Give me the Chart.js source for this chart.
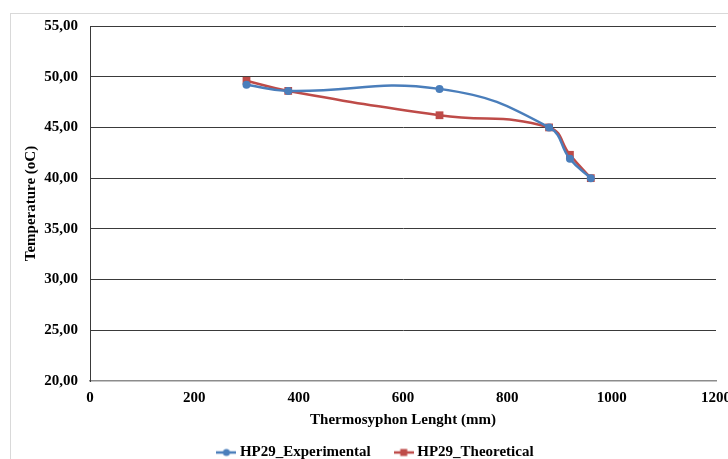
<!DOCTYPE html>
<html>
<head>
<meta charset="utf-8">
<script src="https://cdn.jsdelivr.net/npm/chart.js@4/dist/chart.umd.min.js"></script>
<style>
html,body{margin:0;padding:0;background:#fff;}
#wrap{width:728px;height:459px;position:relative;}
</style>
</head>
<body>
<div id="wrap"><canvas id="c" width="728" height="459"></canvas></div>
<script>
const seriesNames = ["HP29_Experimental", "HP29_Theoretical"];
const lengthMm = [300, 380, 670, 880, 920, 960];
const experimental = [49.2, 48.6, 48.8, 45.0, 41.9, 40.0];
const theoretical = [49.6, 48.6, 46.2, 45.0, 42.3, 40.0];
const xTitle = "Thermosyphon Lenght (mm)";
const yTitle = "Temperature (oC)";

const BLUE = "#4A7EBB";
const RED = "#BE4B48";
const FONT = "'Liberation Serif', 'Times New Roman', serif";

function legendIcon(color, shape) {
  const cv = document.createElement('canvas');
  cv.width = 20; cv.height = 12;
  const g = cv.getContext('2d');
  g.strokeStyle = color; g.lineWidth = 2.5;
  g.beginPath(); g.moveTo(0, 6); g.lineTo(20, 6); g.stroke();
  g.fillStyle = color;
  if (shape === 'circle') { g.beginPath(); g.arc(10, 6, 3.5, 0, Math.PI * 2); g.fill(); }
  else { g.fillRect(6.5, 2.5, 7, 7); }
  return cv;
}

const toPts = (xs, ys) => xs.map((x, i) => ({x: x, y: ys[i]}));

const borderPlugin = {
  id: 'outerBorder',
  beforeDraw(chart) {
    const ctx = chart.ctx;
    ctx.save();
    ctx.strokeStyle = '#d9d9d9';
    ctx.lineWidth = 1;
    ctx.strokeRect(10.5, 13.5, 740, 460);
    ctx.restore();
    if (chart.legend) {
      chart.legend.left += 19;
      chart.legend.right += 19;
    }
  }
};

new Chart(document.getElementById('c'), {
  type: 'line',
  data: {
    datasets: [
      {
        label: seriesNames[0],
        data: toPts(lengthMm, experimental),
        borderColor: BLUE, backgroundColor: BLUE,
        borderWidth: 2.5, pointStyle: 'circle', pointRadius: 4,
        pointBackgroundColor: BLUE, pointBorderWidth: 0,
        tension: 0.45
      },
      {
        label: seriesNames[1],
        data: toPts(lengthMm, theoretical),
        borderColor: RED, backgroundColor: RED,
        borderWidth: 2.5, pointStyle: 'rect', pointRadius: 5.5,
        pointBackgroundColor: RED, pointBorderWidth: 0,
        tension: 0.45
      }
    ]
  },
  options: {
    responsive: false,
    animation: false,
    layout: {padding: {top: 26, right: 12, left: 0, bottom: -11}},
    plugins: {
      tooltip: {enabled: false},
      legend: {
        position: 'bottom',
        labels: {
          usePointStyle: true,
          pointStyleWidth: 12,
          padding: 27,
          color: '#000',
          font: {family: FONT, size: 15, weight: 'bold'},
          generateLabels(chart) {
            return chart.data.datasets.map((ds, i) => ({
              text: ds.label,
              fillStyle: ds.borderColor,
              strokeStyle: ds.borderColor,
              lineWidth: 0,
              pointStyle: legendIcon(ds.borderColor, i === 0 ? 'circle' : 'rect'),
              datasetIndex: i,
              hidden: false
            }));
          }
        }
      }
    },
    scales: {
      x: {
        type: 'linear',
        min: 0, max: 1200,
        ticks: {stepSize: 200, color: '#000', padding: 8,
          font: {family: FONT, size: 15, weight: 'bold'},
          callback: (v) => String(v)},
        grid: {display: false, drawTicks: false},
        border: {display: true, color: '#8c8c8c', width: 1.5},
        title: {display: true, text: xTitle, color: '#000',
          font: {family: FONT, size: 15, weight: 'bold'}, padding: {top: 0, bottom: -11}},
        afterFit(scale) { scale.paddingLeft = 0; scale.paddingRight = 0; scale.height = 37; }
      },
      y: {
        type: 'linear',
        min: 20, max: 55,
        ticks: {stepSize: 5, color: '#000', padding: 12,
          font: {family: FONT, size: 15, weight: 'bold'},
          callback: (v) => v.toFixed(2).replace('.', ',')},
        grid: {color: (c) => c.index === 0 ? 'rgba(0,0,0,0)' : '#3a3a3a', lineWidth: 1, drawTicks: false},
        border: {display: true, color: '#3a3a3a', width: 1},
        title: {display: true, text: yTitle, color: '#000',
          font: {family: FONT, size: 15, weight: 'bold'}, padding: {top: 22, bottom: 0}},
        afterFit(scale) { scale.paddingTop = 0; scale.paddingBottom = 0; scale.width = 90; }
      }
    }
  },
  plugins: [borderPlugin]
});
</script>
</body>
</html>
